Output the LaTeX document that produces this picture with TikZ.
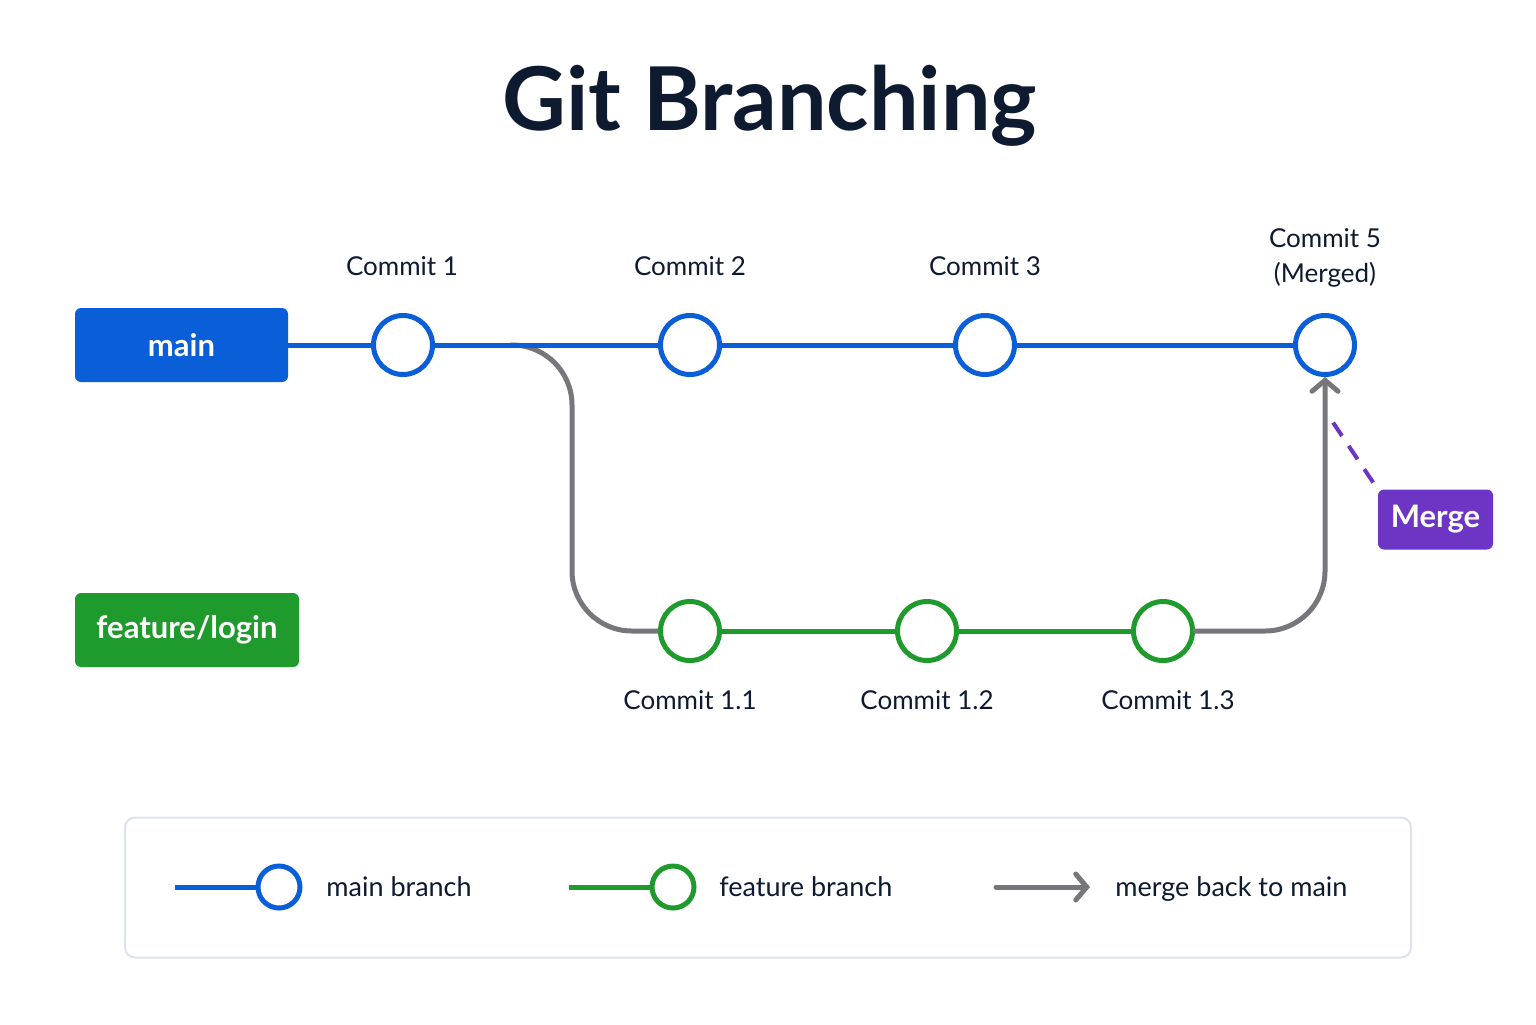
\documentclass[tikz,border=0pt]{standalone}
\usepackage{fontspec}
\setmainfont{Lato}
\usepackage{tikz}
\usetikzlibrary{arrows.meta,positioning,calc}
\usepackage{xcolor}
\definecolor{ink}{HTML}{0E1A30}
\definecolor{mainblue}{HTML}{0A5FD9}
\definecolor{featgreen}{HTML}{1F9B2E}
\definecolor{mergegray}{HTML}{77777B}
\definecolor{mergepurple}{HTML}{6D35C3}
\definecolor{legendborder}{HTML}{DEE3EA}

\begin{document}
\begin{tikzpicture}[
  x=0.5pt, y=-0.5pt,
  branchtag/.style={
    rounded corners=3pt,
    inner sep=0pt,
    minimum height=37pt,
    text=white,
    font=\fontsize{15.5}{18}\selectfont\bfseries
  },
  maincommit/.style={
    circle,
    draw=mainblue,
    fill=white,
    line width=2.5pt,
    minimum size=29.5pt,
    inner sep=0pt
  },
  featcommit/.style={
    maincommit,
    draw=featgreen
  },
  commitlabel/.style={
    font=\fontsize{13}{18}\selectfont,
    text=ink,
    anchor=base,
    align=center,
    inner sep=0pt
  },
  mainline/.style={
    line width=2.5pt,
    draw=mainblue
  },
  featline/.style={
    line width=2.5pt,
    draw=featgreen
  },
  mergeline/.style={
    line width=2.5pt,
    draw=mergegray,
    rounded corners=30pt
  },
  legendtext/.style={
    font=\fontsize{13.5}{16}\selectfont,
    text=ink,
    anchor=base west,
    inner sep=0pt
  }
]
  \useasboundingbox (0,0) rectangle (1536,1024);

  % ----------------------------------------------------
  % TITLE
  % ----------------------------------------------------
  \node[anchor=base, text=ink, inner sep=0pt,
    font=\fontsize{44}{54}\selectfont\bfseries] (title) at (770,130) {Git Branching};

  % ----------------------------------------------------
  % BRANCH TAGS
  % ----------------------------------------------------
  \node[branchtag, fill=mainblue, minimum width=106.5pt] (maintag) at (181.5,345) {main};
  \node[branchtag, fill=featgreen, minimum width=112pt] (feattag) at (187,630) {feature/login};

  % ----------------------------------------------------
  % COMMITS
  % ----------------------------------------------------
  % main branch
  \node[maincommit] (c1) at (403,345) {};
  \node[maincommit] (c2) at (690,345) {};
  \node[maincommit] (c3) at (985,345) {};
  \node[maincommit] (c5) at (1325,345) {};

  % feature branch
  \node[featcommit] (c11) at (690,631) {};
  \node[featcommit] (c12) at (927,631) {};
  \node[featcommit] (c13) at (1163,631) {};

  % labels
  \node[commitlabel] (l1) at (402,275) {Commit 1};
  \node[commitlabel] (l2) at (690,275) {Commit 2};
  \node[commitlabel] (l3) at (985,275) {Commit 3};
  \node[commitlabel] (l5) at (1325,247) {Commit 5};
  \node[commitlabel] (l5b) at (1325,282) {(Merged)};
  \node[commitlabel] (l11) at (690,709) {Commit 1.1};
  \node[commitlabel] (l12) at (927,709) {Commit 1.2};
  \node[commitlabel] (l13) at (1168,709) {Commit 1.3};

  % ----------------------------------------------------
  % CONNECTIONS
  % ----------------------------------------------------
  \coordinate (fork) at (510,345);

  % branch off and merge back
  \draw[mergeline] (fork) -- ++(62,0) |- (c11.west);
  \draw[mergeline, -{Straight Barb[length=5.5pt, width=13pt, line cap=round]}, line cap=round]
    (c13.east) -| (c5.south);

  % main line
  \draw[mainline] (maintag.east) -- (c1.west);
  \draw[mainline] (c1.east) -- (c2.west);
  \draw[mainline] (c2.east) -- (c3.west);
  \draw[mainline] (c3.east) -- (c5.west);

  % feature line
  \draw[featline] (c11.east) -- (c12.west);
  \draw[featline] (c12.east) -- (c13.west);

  % merge tag
  \node[branchtag, fill=mergepurple, minimum width=57.5pt, minimum height=30pt] (merge) at (1435.5,519.5) {Merge};
  \coordinate (mergetip) at (1330,418);
  \draw[mergepurple, line width=2pt, dash pattern=on 8pt off 6pt, shorten <=4pt]
    (merge.north west) -- (mergetip);

  % ----------------------------------------------------
  % LEGEND
  % ----------------------------------------------------
  \node[draw=legendborder, line width=1pt, rounded corners=5pt, fill=white,
    minimum width=643pt, minimum height=70pt] (legend) at (768,887.5) {};

  \coordinate (lmstart) at (175,887);
  \node[maincommit, minimum size=21pt] (lmain) at (279,887) {};
  \draw[mainline] (lmstart) -- (lmain.west);
  \node[legendtext] (lmaintext) at (326,896) {main branch};

  \coordinate (lfstart) at (569,887);
  \node[featcommit, minimum size=21pt] (lfeat) at (673,887) {};
  \draw[featline] (lfstart) -- (lfeat.west);
  \node[legendtext] (lfeattext) at (719,896) {feature branch};

  \coordinate (lastart) at (996,887);
  \coordinate (laend) at (1090,887);
  \draw[mergeline, -{Straight Barb[length=5.5pt, width=13pt, line cap=round]}, line cap=round]
    (lastart) -- (laend);
  \node[legendtext] (larrtext) at (1115,896) {merge back to main};

\end{tikzpicture}
\end{document}
